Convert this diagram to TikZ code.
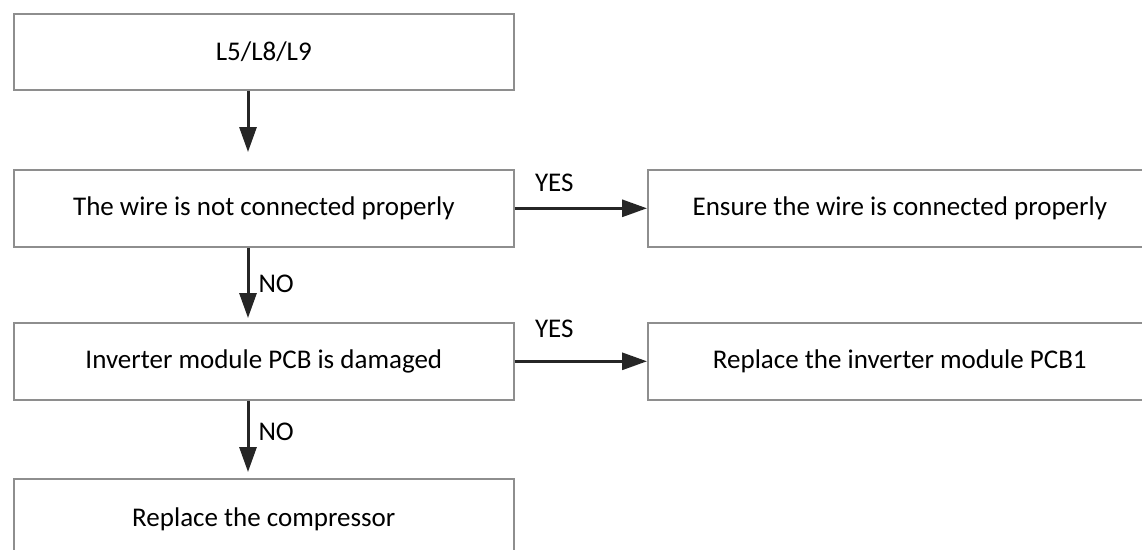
\documentclass[tikz,border=0pt]{standalone}
\usepackage{fontspec}
\setmainfont{Carlito}
\usetikzlibrary{arrows.meta}
\definecolor{boxgray}{HTML}{8E8E8E}
\definecolor{arrgray}{HTML}{262626}
\begin{document}
\begin{tikzpicture}[x=1pt,y=-1pt,
  box/.style={draw=boxgray, line width=1.6pt, minimum height=76pt, inner sep=0pt,
    font=\fontsize{27}{31}\selectfont, anchor=north west, text=black},
  lbox/.style={box, minimum width=500pt},
  rbox/.style={box, minimum width=504pt},
  arr/.style={draw=arrgray, line width=3pt, -{Triangle[length=25pt,width=17pt]}},
  lbl/.style={font=\fontsize{27}{31}\selectfont, inner sep=0pt, text=black}]
\useasboundingbox (0,0) rectangle (1142,549);
\clip (0,0) rectangle (1142,549);
\fill[white] (0,0) rectangle (1142,549);

\node[lbox, minimum height=76pt] (b1) at (13,13) {L5/L8/L9};
\node[lbox, minimum height=77pt] (b2) at (13,169) {The wire is not connected properly};
\node[rbox, minimum height=77pt] (b3) at (647,169) {Ensure the wire is connected properly};
\node[lbox, minimum height=77pt] (b4) at (13,322) {Inverter module PCB is damaged};
\node[rbox, minimum height=77pt] (b5) at (647,322) {Replace the inverter module PCB1};
\node[lbox, minimum height=80pt] (b6) at (13,478) {Replace the compressor};

\coordinate (ax) at (248,0);
\draw[arr, shorten >=17pt] (b1.south -| ax) -- (b2.north -| ax);
\draw[arr, shorten >=4pt] (b2.south -| ax) -- (b4.north -| ax)
  node[lbl, pos=0.49, right=9pt] {NO};
\draw[arr, shorten >=6pt] (b4.south -| ax) -- (b6.north -| ax)
  node[lbl, pos=0.4, right=9pt] {NO};
\draw[arr] (b2.east) -- (b3.west) node[lbl, pos=0.3, above=15pt] {YES};
\draw[arr] (b4.east) -- (b5.west) node[lbl, pos=0.3, above=22pt] {YES};
\end{tikzpicture}
\end{document}
